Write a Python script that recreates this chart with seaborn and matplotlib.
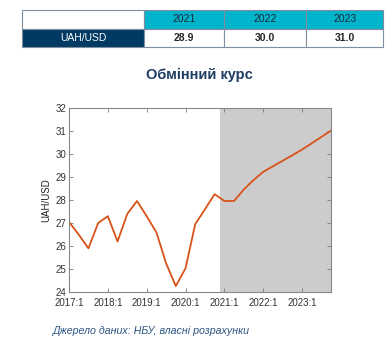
import pandas as pd
import matplotlib
matplotlib.use("Agg")
import matplotlib.pyplot as plt
import seaborn as sns

# table at top
table_years = ["2021", "2022", "2023"]
table_label = "UAH/USD"
table_values = ["28.9", "30.0", "31.0"]

# quarterly exchange rate, 2017:1 .. 2023:4
quarters = list(range(28))
rate = [27.05, 26.5, 25.9, 27.0, 27.3, 26.2, 27.4, 27.96,
        27.3, 26.6, 25.25, 24.26, 25.03, 26.95, 27.6, 28.26,
        27.96, 27.96, 28.46, 28.87, 29.23, 29.47, 29.71, 29.95,
        30.2, 30.47, 30.75, 31.03]
tick_labels = ["2017:1", "2018:1", "2019:1", "2020:1", "2021:1", "2022:1", "2023:1"]
forecast_start = 15.6

sns.set_theme(style="white")
plt.rcParams['font.family'] = ['Liberation Sans', 'DejaVu Sans']

fig = plt.figure(figsize=(3.9, 3.59), dpi=100)

# --- table ---
tax = fig.add_axes([0.0564, 0.869, 0.926, 0.103])
tax.set_axis_off()
cells = [[""] + table_years, [table_label] + table_values]
tbl = tax.table(cellText=cells, bbox=[0, 0, 1, 1], cellLoc="center")
tbl.auto_set_font_size(False)
col_w = [122, 80, 82, 77]
tot = sum(col_w)
for (r, c), cell in tbl.get_celld().items():
    cell.set_width(col_w[c] / tot)
    cell.set_edgecolor("#7f8fa0")
    cell.set_linewidth(0.8)
    txt = cell.get_text()
    txt.set_fontsize(7.5)
    if r == 0 and c > 0:
        cell.set_facecolor("#00b4cc")
        txt.set_color("#1a2a3a")
    elif r == 1 and c == 0:
        cell.set_facecolor("#003a63")
        txt.set_color("white")
    elif r == 1:
        cell.set_facecolor("white")
        txt.set_fontweight("bold")
    else:
        cell.set_facecolor("white")

# title
fig.text(0.51, 0.79, "Обмінний курс", ha="center", va="center",
         fontsize=10.5, fontweight="bold", color="#1f3d63")

# --- main chart ---
ax = fig.add_axes([0.177, 0.1866, 0.672, 0.512])
df = pd.DataFrame({"q": quarters, "rate": rate})
ax.axvspan(forecast_start, quarters[-1], color="#cccccc", lw=0, zorder=0)
sns.lineplot(data=df, x="q", y="rate", ax=ax, color="#d95319", linewidth=1.3)

ax.set_xlim(0, quarters[-1])
ax.set_ylim(24, 32)
ax.set_xticks(range(0, 28, 4))
ax.set_xticklabels(tick_labels)
ax.set_yticks(range(24, 33))
ax.set_xlabel("")
ax.set_ylabel("UAH/USD", fontsize=7, color="#222222", labelpad=3)
ax.tick_params(direction="in", length=3, width=0.6, top=True, right=True,
               labelsize=7, colors="#333333", bottom=True, left=True)
ax.tick_params(axis="x", color="#777777", pad=4)
ax.tick_params(axis="y", color="#777777", pad=2)
for s in ax.spines.values():
    s.set_color("#888888")
    s.set_linewidth(0.8)

# source
fig.text(0.135, 0.078, "Джерело даних: НБУ, власні розрахунки", ha="left",
         va="center", fontsize=7.7, style="italic", color="#2e5583")

fig.savefig("out.png", dpi=100)
